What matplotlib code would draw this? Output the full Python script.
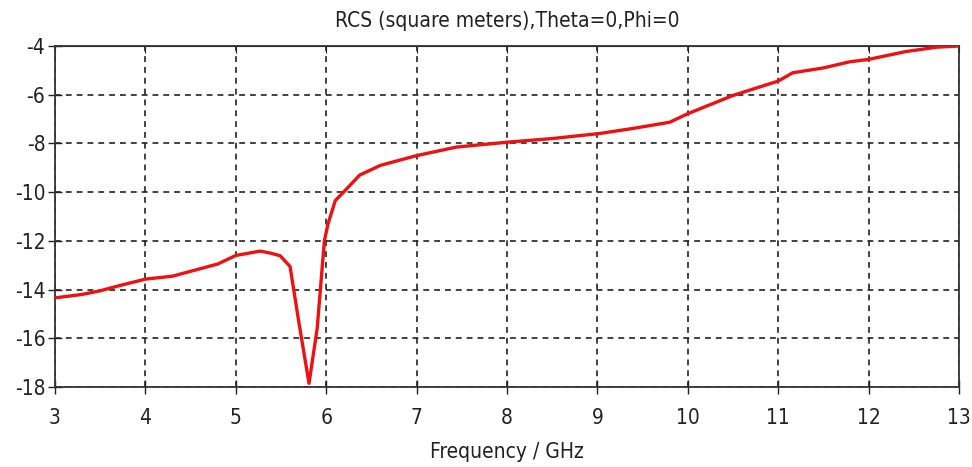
import matplotlib.pyplot as plt

# RCS curve (frequency in GHz, RCS in dB square meters)
freq = [3.0, 3.3, 3.5, 3.7, 4.0, 4.3, 4.5, 4.8, 5.0, 5.15, 5.27, 5.38, 5.49,
        5.6, 5.7, 5.81, 5.9, 5.98, 6.02, 6.1, 6.23, 6.37, 6.6, 7.0, 7.44,
        8.0, 8.5, 9.03, 9.4, 9.8, 10.0, 10.5, 11.0, 11.16, 11.5, 11.79,
        12.0, 12.41, 12.75, 13.0]
rcs = [-14.34, -14.2, -14.05, -13.85, -13.57, -13.45, -13.25, -12.95, -12.6,
       -12.5, -12.42, -12.5, -12.61, -13.05, -15.4, -17.85, -15.6, -12.0,
       -11.3, -10.35, -9.85, -9.3, -8.9, -8.5, -8.15, -7.95, -7.8, -7.59,
       -7.38, -7.13, -6.78, -6.03, -5.44, -5.1, -4.9, -4.65, -4.55, -4.23,
       -4.05, -4.0]

x_ticks = list(range(3, 14))
y_ticks = list(range(-18, -3, 2))

plt.rcParams['font.family'] = ['DejaVu Sans']
plt.rcParams['font.stretch'] = 'condensed'
plt.rcParams['font.size'] = 15
plt.rcParams['axes.unicode_minus'] = False

fig = plt.figure(figsize=(9.72, 4.67), dpi=100)
ax = fig.add_axes([0.0566, 0.1713, 0.93, 0.7302])

ax.plot(freq, rcs, color='#ee1111', linewidth=2.4, zorder=3)

ax.set_xlim(3, 13)
ax.set_ylim(-18, -4)
ax.set_xticks(x_ticks)
ax.set_yticks(y_ticks)
ax.grid(True, color='#222222', linestyle=(0, (3.5, 3)), linewidth=1.2)

ax.tick_params(axis='both', direction='inout', length=10, width=1, colors='#222222',
               labelcolor='#222222')
ax.tick_params(axis='x', pad=10)
ax.tick_params(axis='y', pad=2)
for s in ax.spines.values():
    s.set_color('#333333')
    s.set_linewidth(1.3)

top = ax.secondary_xaxis('top')
top.set_xticks(x_ticks)
top.tick_params(direction='in', length=5, labeltop=False, colors='#222222')

ax.set_title('RCS (square meters),Theta=0,Phi=0', fontsize=15, color='#222222', pad=14)
ax.set_xlabel('Frequency / GHz', fontsize=15, color='#222222', labelpad=10)

fig.savefig('out.png', dpi=100)
